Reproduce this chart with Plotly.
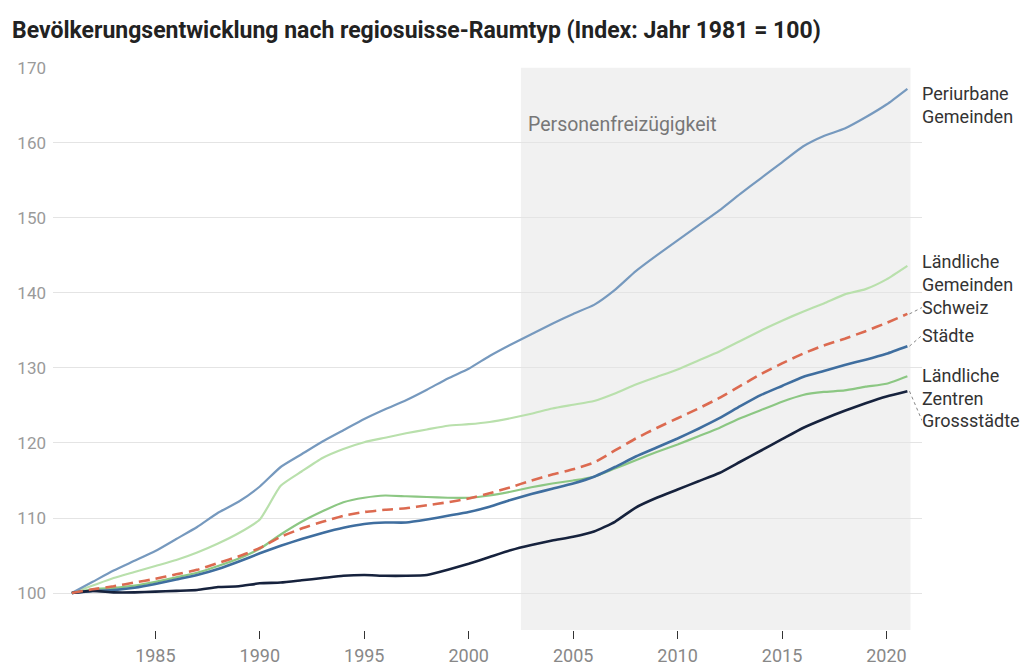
import plotly.graph_objects as go

years = list(range(1981, 2022))

periurbane = [100, 101.5, 103, 104.3, 105.6, 107.2, 108.8, 110.7, 112.2, 114.2,
              116.8, 118.5, 120.2, 121.7, 123.2, 124.5, 125.7, 127.1, 128.6, 129.9,
              131.6, 133.1, 134.5, 135.9, 137.2, 138.4, 140.4, 142.9, 145.0, 147.0,
              149.0, 151.0, 153.2, 155.3, 157.4, 159.5, 160.9, 161.9, 163.4, 165.1, 167.2]
laendl_gem = [100, 101.0, 102.0, 102.8, 103.6, 104.4, 105.4, 106.6, 108.0, 109.8,
              114.3, 116.2, 118.0, 119.2, 120.1, 120.7, 121.3, 121.8, 122.3, 122.5,
              122.8, 123.3, 123.9, 124.6, 125.1, 125.6, 126.6, 127.8, 128.8, 129.8,
              131.0, 132.2, 133.6, 135.0, 136.3, 137.5, 138.6, 139.8, 140.5, 141.8, 143.6]
schweiz = [100, 100.5, 100.9, 101.4, 101.9, 102.5, 103.1, 104.0, 104.9, 106.0,
           107.5, 108.6, 109.5, 110.3, 110.8, 111.1, 111.3, 111.7, 112.1, 112.6,
           113.3, 114.1, 115.0, 115.8, 116.5, 117.4, 119.0, 120.6, 122.0, 123.3,
           124.6, 126.0, 127.6, 129.2, 130.6, 131.9, 133.0, 133.9, 134.9, 136.0, 137.2]
staedte = [100, 100.3, 100.4, 100.7, 101.2, 101.8, 102.4, 103.2, 104.2, 105.3,
           106.3, 107.2, 108.0, 108.7, 109.2, 109.4, 109.4, 109.8, 110.3, 110.8,
           111.5, 112.4, 113.2, 113.9, 114.6, 115.5, 116.8, 118.2, 119.4, 120.6,
           121.9, 123.3, 124.9, 126.4, 127.6, 128.8, 129.6, 130.4, 131.1, 131.9, 132.9]
laendl_zen = [100, 100.5, 100.7, 101.0, 101.5, 102.1, 102.7, 103.6, 104.6, 105.9,
              107.8, 109.5, 110.9, 112.1, 112.7, 113.0, 112.9, 112.8, 112.7, 112.7,
              113.0, 113.5, 114.1, 114.6, 115.0, 115.5, 116.6, 117.7, 118.8, 119.8,
              120.9, 122.0, 123.3, 124.4, 125.5, 126.4, 126.8, 127.0, 127.5, 127.9, 128.9]
grossst = [100, 100.3, 100.1, 100.1, 100.2, 100.3, 100.4, 100.8, 100.9, 101.3,
           101.4, 101.7, 102.0, 102.3, 102.4, 102.3, 102.3, 102.4, 103.1, 103.9,
           104.8, 105.7, 106.4, 107.0, 107.5, 108.2, 109.5, 111.4, 112.7, 113.8,
           114.9, 116.0, 117.5, 119.0, 120.5, 122.0, 123.2, 124.3, 125.3, 126.2, 126.9]

series_names = [["Periurbane", "Gemeinden"], ["Ländliche", "Gemeinden"], ["Schweiz"],
                ["Städte"], ["Ländliche", "Zentren"], ["Grossstädte"]]
series_values = [periurbane, laendl_gem, schweiz, staedte, laendl_zen, grossst]
label_values = [165.1, 142.6, 138.05, 134.35, 127.4, 123.0]
leader = [False, False, True, True, False, True]

colors = ["#7699be", "#b9e0ac", "#dc6a50", "#3f6e9f", "#8cc783", "#16223d"]
widths = [2.2, 2.2, 2.6, 2.6, 2.2, 2.6]
dashes = ["solid", "solid", "11px,6px", "solid", "solid", "solid"]
draw_order = [1, 0, 4, 3, 5, 2]

period_start, period_end = 2002.5, 2021.15
period_label = "Personenfreizügigkeit"

xticks = [1985, 1990, 1995, 2000, 2005, 2010, 2015, 2020]
yticks = [100, 110, 120, 130, 140, 150, 160, 170]

fig = go.Figure()
for i in draw_order:
    fig.add_trace(go.Scatter(
        x=years, y=series_values[i], mode="lines", name=" ".join(series_names[i]),
        line=dict(color=colors[i], width=widths[i], dash=dashes[i], shape="spline", smoothing=0.5),
        hoverinfo="skip", showlegend=False))

fig.add_shape(type="rect", xref="x", yref="y", x0=period_start, x1=period_end,
              y0=90, y1=170, fillcolor="#f1f1f1", line_width=0, layer="below")
fig.add_annotation(x=period_start, y=162.4, xref="x", yref="y", text=period_label,
                   showarrow=False, xanchor="left", yanchor="middle", xshift=5,
                   font=dict(family="Roboto", size=19.5, color="#777777"))

line_gap = 23
for lines, val, series, lead in zip(series_names, label_values, series_values, leader):
    n = len(lines)
    for k, txt in enumerate(lines):
        fig.add_annotation(x=1.0, y=val, xref="paper", yref="y", text=txt,
                           showarrow=False, xanchor="left", yanchor="middle", align="left",
                           yshift=((n - 1) / 2 - k) * line_gap, xshift=-2,
                           font=dict(family="Roboto", size=18, color="#333333"))
    if lead:
        fig.add_shape(type="line", xref="x", yref="y", x0=years[-1] + 0.1, y0=series[-1],
                      x1=years[-1] + 0.7, y1=val, line=dict(color="#888888", width=1, dash="dot"),
                      layer="above")

fig.update_layout(
    width=1034, height=671,
    margin=dict(l=53, r=112, t=67, b=41),
    paper_bgcolor="white", plot_bgcolor="white",
    title=dict(text="<b>Bevölkerungsentwicklung nach regiosuisse-Raumtyp (Index: Jahr 1981 = 100)</b>",
               x=12 / 1034, xanchor="left", xref="container", y=1 - 30 / 671, yanchor="middle",
               yref="container", font=dict(family="Roboto", size=23, color="#222222")),
    xaxis=dict(range=[1980.1, 2021.7], tickvals=xticks, showgrid=False, zeroline=False,
               showline=False, ticks="outside", ticklen=8, tickcolor="#333333", tickwidth=1,
               ticklabelstandoff=1, automargin=False,
               tickfont=dict(family="Roboto", size=18, color="#888888")),
    yaxis=dict(range=[95.08, 170.1], tickvals=yticks, showgrid=True, gridcolor="#e4e4e4",
               gridwidth=1, zeroline=False, showline=False, ticks="",
               ticklabelstandoff=6, automargin=False,
               tickfont=dict(family="Roboto", size=17, color="#9a9a9a")),
)
fig.write_html("out.html", config={"displayModeBar": False, "staticPlot": True},
               post_script="document.body.style.margin='0';document.body.style.overflow='hidden';")
